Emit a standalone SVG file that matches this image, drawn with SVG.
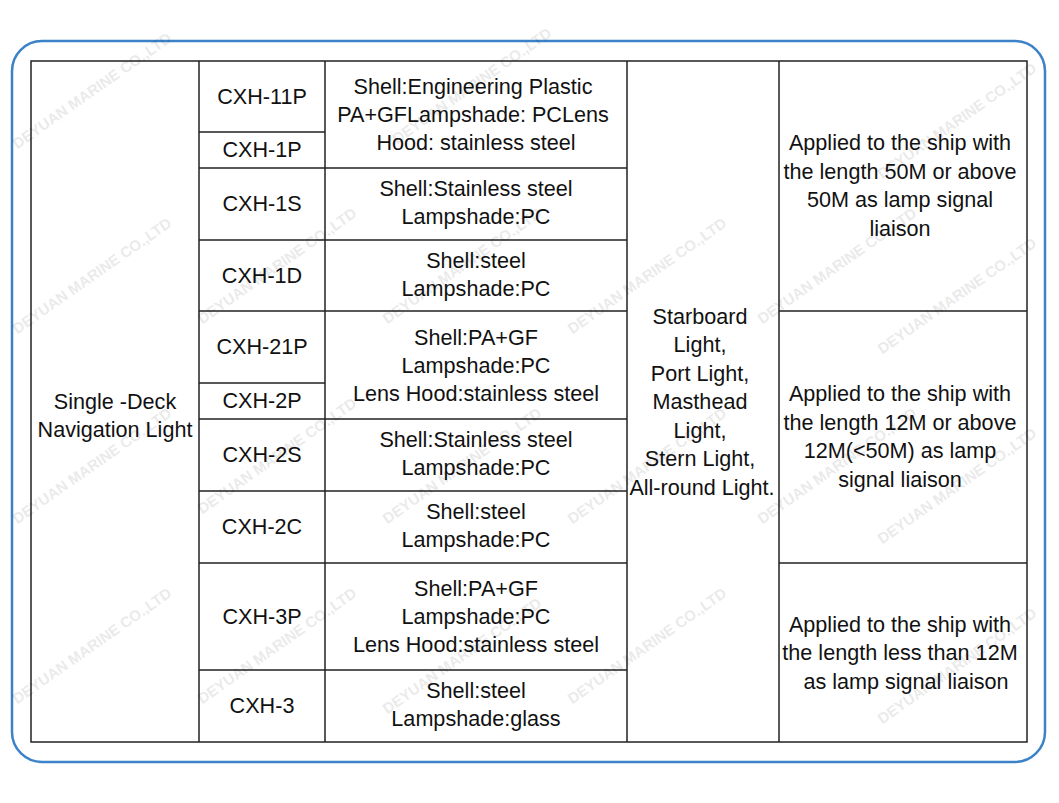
<svg xmlns="http://www.w3.org/2000/svg" width="1059" height="803" viewBox="0 0 1059 803">
<style>
.t{font-family:"Liberation Sans",Arial,sans-serif;font-size:21.6px;fill:#111;text-anchor:middle}
.l{stroke:#222;stroke-width:1.5;fill:none}
.w{font-family:"Liberation Sans",Arial,sans-serif;font-size:15px;font-weight:bold;fill:#000;opacity:0.08;text-anchor:middle}
</style>
<rect width="1059" height="803" fill="#fff"/>
<rect x="12" y="41" width="1033" height="721" rx="30" fill="none" stroke="#3b82c8" stroke-width="2.5"/>
<g id="table">
<rect class="l" x="31" y="61" width="996" height="681"/>
<path class="l" d="M199 61V742M325 61V742M627 61V742M779 61V742"/>
<path class="l" d="M199 132H325M199 383H325M199 168H627M199 240H627M199 311H627M199 419H627M199 491H627M199 563H627M199 670H627M779 311H1027M779 563H1027"/>
</g>
<g id="col1"><text class="t" x="115" y="409">Single -Deck</text><text class="t" x="115" y="437">Navigation Light</text></g>
<g id="col2">
<text class="t" x="262" y="104">CXH-11P</text><text class="t" x="262" y="157">CXH-1P</text>
<text class="t" x="262" y="211">CXH-1S</text><text class="t" x="262" y="283">CXH-1D</text>
<text class="t" x="262" y="354">CXH-21P</text><text class="t" x="262" y="408">CXH-2P</text>
<text class="t" x="262" y="462">CXH-2S</text><text class="t" x="262" y="534">CXH-2C</text>
<text class="t" x="262" y="624">CXH-3P</text><text class="t" x="262" y="713">CXH-3</text>
</g>
<g id="col3">
<text class="t" x="473" y="94">Shell:Engineering Plastic</text><text class="t" x="473" y="122">PA+GFLampshade: PCLens</text><text class="t" x="476" y="150">Hood: stainless steel</text>
<text class="t" x="476" y="196">Shell:Stainless steel</text><text class="t" x="476" y="224">Lampshade:PC</text>
<text class="t" x="476" y="268">Shell:steel</text><text class="t" x="476" y="296">Lampshade:PC</text>
<text class="t" x="476" y="345">Shell:PA+GF</text><text class="t" x="476" y="373">Lampshade:PC</text><text class="t" x="476" y="401">Lens Hood:stainless steel</text>
<text class="t" x="476" y="447">Shell:Stainless steel</text><text class="t" x="476" y="475">Lampshade:PC</text>
<text class="t" x="476" y="519">Shell:steel</text><text class="t" x="476" y="547">Lampshade:PC</text>
<text class="t" x="476" y="596">Shell:PA+GF</text><text class="t" x="476" y="624">Lampshade:PC</text><text class="t" x="476" y="652">Lens Hood:stainless steel</text>
<text class="t" x="476" y="698">Shell:steel</text><text class="t" x="476" y="726">Lampshade:glass</text>
</g>
<g id="col4">
<text class="t" x="700" y="324">Starboard</text><text class="t" x="700" y="352">Light,</text><text class="t" x="700" y="381">Port Light,</text><text class="t" x="700" y="409">Masthead</text><text class="t" x="700" y="438">Light,</text><text class="t" x="700" y="466">Stern Light,</text><text class="t" x="702" y="495">All-round Light.</text>
</g>
<g id="col5">
<text class="t" x="900" y="150">Applied to the ship with</text><text class="t" x="900" y="179">the length 50M or above</text><text class="t" x="900" y="207">50M as lamp signal</text><text class="t" x="900" y="236">liaison</text>
<text class="t" x="900" y="401">Applied to the ship with</text><text class="t" x="900" y="430">the length 12M or above</text><text class="t" x="900" y="458">12M(&lt;50M) as lamp</text><text class="t" x="900" y="487">signal liaison</text>
<text class="t" x="900" y="632">Applied to the ship with</text><text class="t" x="900" y="660">the length less than 12M</text><text class="t" x="906" y="689">as lamp signal liaison</text>
</g>
<g id="watermarks">
<text class="w" transform="translate(95,95) rotate(-35)">DEYUAN MARINE CO.,LTD</text>
<text class="w" transform="translate(475,90) rotate(-35)">DEYUAN MARINE CO.,LTD</text>
<text class="w" transform="translate(960,125) rotate(-35)">DEYUAN MARINE CO.,LTD</text>
<text class="w" transform="translate(95,280) rotate(-35)">DEYUAN MARINE CO.,LTD</text>
<text class="w" transform="translate(280,270) rotate(-35)">DEYUAN MARINE CO.,LTD</text>
<text class="w" transform="translate(465,270) rotate(-35)">DEYUAN MARINE CO.,LTD</text>
<text class="w" transform="translate(650,280) rotate(-35)">DEYUAN MARINE CO.,LTD</text>
<text class="w" transform="translate(840,270) rotate(-35)">DEYUAN MARINE CO.,LTD</text>
<text class="w" transform="translate(960,300) rotate(-35)">DEYUAN MARINE CO.,LTD</text>
<text class="w" transform="translate(95,470) rotate(-35)">DEYUAN MARINE CO.,LTD</text>
<text class="w" transform="translate(280,460) rotate(-35)">DEYUAN MARINE CO.,LTD</text>
<text class="w" transform="translate(465,470) rotate(-35)">DEYUAN MARINE CO.,LTD</text>
<text class="w" transform="translate(650,470) rotate(-35)">DEYUAN MARINE CO.,LTD</text>
<text class="w" transform="translate(840,470) rotate(-35)">DEYUAN MARINE CO.,LTD</text>
<text class="w" transform="translate(960,490) rotate(-35)">DEYUAN MARINE CO.,LTD</text>
<text class="w" transform="translate(95,650) rotate(-35)">DEYUAN MARINE CO.,LTD</text>
<text class="w" transform="translate(280,650) rotate(-35)">DEYUAN MARINE CO.,LTD</text>
<text class="w" transform="translate(465,660) rotate(-35)">DEYUAN MARINE CO.,LTD</text>
<text class="w" transform="translate(650,650) rotate(-35)">DEYUAN MARINE CO.,LTD</text>
<text class="w" transform="translate(960,670) rotate(-35)">DEYUAN MARINE CO.,LTD</text>
</g>
</svg>
